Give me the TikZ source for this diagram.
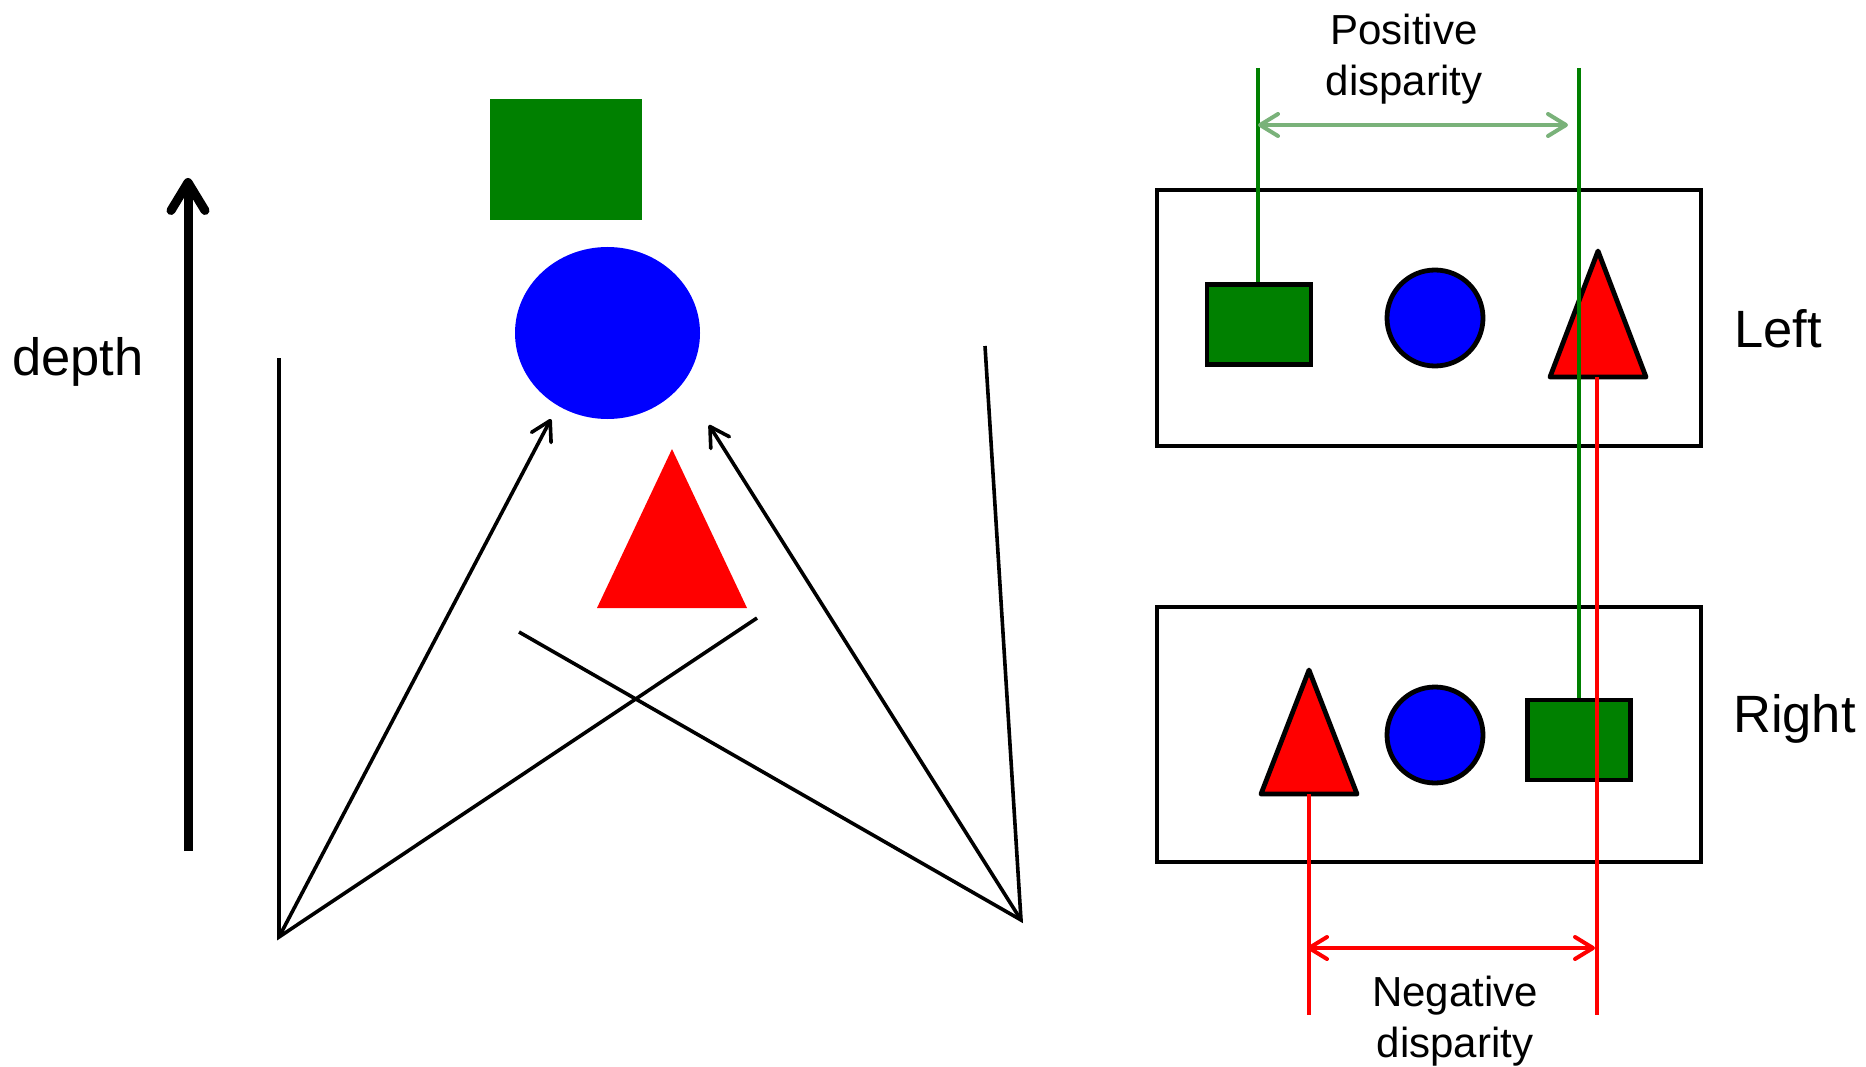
\documentclass[tikz,border=0pt]{standalone}
\usepackage{fontspec}
\setmainfont{Liberation Sans}
\usetikzlibrary{arrows.meta,shapes.geometric}
\definecolor{objgreen}{RGB}{0,128,0}
\definecolor{objblue}{RGB}{0,0,255}
\definecolor{objred}{RGB}{255,0,0}
\definecolor{posgreen}{RGB}{122,178,122}
\begin{document}
\begin{tikzpicture}[x=1pt,y=-1pt,
  thinline/.style={line width=3.6pt},
  sight/.style={thinline,-{Straight Barb[length=19pt,width=22pt,round]}},
  bigtext/.style={inner sep=0pt,font=\fontsize{52.5pt}{60pt}\selectfont},
  smalltext/.style={inner sep=0pt,align=center,font=\fontsize{42pt}{51pt}\selectfont},
  viewbox/.style={draw,line width=4.8pt,inner sep=0pt,minimum width=544pt,minimum height=256pt},
  imgrect/.style={draw,line width=4.8pt,fill=objgreen,inner sep=0pt,minimum width=104pt,minimum height=80pt},
  imgcirc/.style={draw,line width=4.8pt,fill=objblue,circle,inner sep=0pt,minimum size=96pt},
  imgtri/.style={draw,line width=4.8pt,fill=objred,line join=round},
  projgreen/.style={objgreen,line width=3.8pt},
  projred/.style={objred,line width=3.8pt},
  dimarrow/.style={line width=4pt,{Straight Barb[length=18pt,width=22pt,round]}-{Straight Barb[length=18pt,width=22pt,round]}}
]
\useasboundingbox (0,0) rectangle (1866,1067);
% ---------- left scene ----------
\node[fill=objgreen,minimum width=152pt,minimum height=121pt,inner sep=0pt] (sq) at (566,159.5) {};
\node[ellipse,fill=objblue,minimum width=185pt,minimum height=172pt,inner sep=0pt] (ball) at (607.5,333) {};
\fill[objred] (672,449) -- (747,608) -- (597,608) -- cycle;

\coordinate (dbot) at (188,851);
\coordinate (dtop) at (188,178);
\draw[line width=9pt,-{Straight Barb[length=28pt,width=34pt,round]}] (dbot) -- (dtop);
\node[bigtext,anchor=base west] (depthlbl) at (12,375) {depth};

\coordinate (LE) at (279,937);
\coordinate (RE) at (1021,920);
\coordinate (Ltop) at (279,358);
\coordinate (Rtop) at (985,346);
\coordinate (Lray) at (757,618);
\coordinate (Rray) at (519,632);
\coordinate (Ltip) at (551,419);
\coordinate (Rtip) at (709,425);
\draw[thinline] (Ltop) -- (LE) -- (Lray);
\draw[thinline] (Rtop) -- (RE) -- (Rray);
\draw[sight] (LE) -- (Ltip);
\draw[sight] (RE) -- (Rtip);

% ---------- right images ----------
\node[viewbox] (leftview) at (1429,318) {};
\node[viewbox,minimum height=255pt] (rightview) at (1429,734.5) {};

\node[imgrect] (lrect) at (1259,324.5) {};
\node[imgcirc] (lcirc) at (1435,318) {};
\coordinate (ltriA) at (1598,251);
\coordinate (ltriB) at (1646,377);
\coordinate (ltriC) at (1550,377);
\draw[imgtri] (ltriA) -- (ltriB) -- (ltriC) -- cycle;

\coordinate (rtriA) at (1309,670);
\coordinate (rtriB) at (1357,794);
\coordinate (rtriC) at (1261,794);
\draw[imgtri] (rtriA) -- (rtriB) -- (rtriC) -- cycle;
\node[imgcirc] (rcirc) at (1435,735) {};
\node[imgrect,minimum width=103pt] (rrect) at (1579,740) {};

\node[bigtext,anchor=base west] (leftlbl) at (1734,347) {Left};
\node[bigtext,anchor=base west] (rightlbl) at (1733,732) {Right};

% projection lines
\coordinate (gLtop) at (1258,68);
\coordinate (gRtop) at (1579,68);
\draw[projgreen] (gLtop) -- (lrect.north -| gLtop);
\draw[projgreen] (gRtop) -- (rrect.north);
\coordinate (rLbot) at (1309,1015);
\coordinate (rRbot) at (1597,1015);
\draw[projred] (1597,377) -- (rRbot);
\draw[projred] (1309,794) -- (rLbot);

\coordinate (pL) at (1258,125);
\coordinate (pR) at (1568,125);
\draw[dimarrow,posgreen] (pL) -- (pR);
\coordinate (nL) at (1307,948);
\coordinate (nR) at (1595,948);
\draw[dimarrow,objred] (nL) -- (nR);

\node[smalltext,anchor=north] (poslbl) at (1404,14) {Positive\\disparity};
\node[smalltext,anchor=north] (neglbl) at (1455,976) {Negative\\disparity};
\end{tikzpicture}
\end{document}
